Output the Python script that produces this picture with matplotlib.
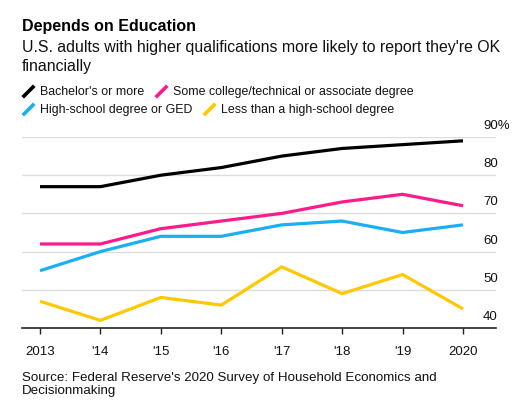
import matplotlib
matplotlib.use('Agg')
import matplotlib.pyplot as plt
from matplotlib.lines import Line2D
from matplotlib.transforms import blended_transform_factory, offset_copy

years = [2013, 2014, 2015, 2016, 2017, 2018, 2019, 2020]
year_labels = ['2013', "'14", "'15", "'16", "'17", "'18", "'19", '2020']

bachelor = [77, 77, 80, 82, 85, 87, 88, 89]
some_college = [62, 62, 66, 68, 70, 73, 75, 72]
high_school = [55, 60, 64, 64, 67, 68, 65, 67]
less_than_hs = [47, 42, 48, 46, 56, 49, 54, 45]

y_ticks = [40, 50, 60, 70, 80, 90]
y_labels = ['40', '50', '60', '70', '80', '90%']

series = [
    ("Bachelor's or more", bachelor, '#000000'),
    ("Some college/technical or associate degree", some_college, '#FF1A8C'),
    ("High-school degree or GED", high_school, '#1AAFF5'),
    ("Less than a high-school degree", less_than_hs, '#FFC800'),
]

plt.rcParams['font.family'] = ['Liberation Sans', 'DejaVu Sans']

W, H = 527, 413
fig = plt.figure(figsize=(W / 100, H / 100), dpi=100)

def fx(px):
    return px / W

def fy(px):
    return 1 - px / H

ax = fig.add_axes([fx(22), fy(328), fx(474), (328 - 137) / H])

for name, vals, col in series:
    ax.plot(years, vals, color=col, lw=2.3, solid_capstyle='butt',
            solid_joinstyle='miter', clip_on=False, zorder=3)

ax.set_xlim(2013 - 18 / 60.43, 2020 + 33 / 60.43)
ax.set_ylim(40, 90)

for s in ['top', 'right', 'left']:
    ax.spines[s].set_visible(False)
ax.spines['bottom'].set_color('#222222')
ax.spines['bottom'].set_linewidth(1.2)

ax.set_yticks(y_ticks[1:])
ax.yaxis.grid(True, color='#dddddd', lw=1)
ax.tick_params(axis='y', length=0, labelleft=False)
ax.set_xticks(years)
ax.set_xticklabels(year_labels)
ax.tick_params(axis='x', length=4, width=1, color='#222222', pad=9,
               labelsize=9.5, labelcolor='#111111')

trans = blended_transform_factory(ax.transAxes, ax.transData)
trans = offset_copy(trans, fig=fig, x=0, y=5, units='dots')
for v, lab in zip(y_ticks, y_labels):
    ax.text((483 - 22) / 474, v, lab, transform=trans, ha='left',
            va='bottom', fontsize=9.5, color='#111111')

fig.text(fx(22), fy(31), 'Depends on Education', fontsize=11.5,
         fontweight='bold', va='baseline', ha='left')
fig.text(fx(22), fy(52),
         "U.S. adults with higher qualifications more likely to report they're OK",
         fontsize=11.4, va='baseline', ha='left', color='#111111')
fig.text(fx(22), fy(71), 'financially', fontsize=11.4, va='baseline',
         ha='left', color='#111111')

legend_pos = [(22, 95), (155, 95), (22, 113), (203, 113)]
for (name, vals, col), (lx, ly) in zip(series, legend_pos):
    fig.add_artist(Line2D([fx(lx + 2), fx(lx + 11)], [fy(ly + 1), fy(ly - 8)],
                          color=col, lw=2.6, transform=fig.transFigure))
    fig.text(fx(lx + 18), fy(ly), name, fontsize=8.9, va='baseline',
             ha='left', color='#111111')

fig.text(fx(22), fy(381),
         "Source: Federal Reserve's 2020 Survey of Household Economics and",
         fontsize=9.6, va='baseline', ha='left', color='#111111')
fig.text(fx(22), fy(394), 'Decisionmaking', fontsize=9.6, va='baseline',
         ha='left', color='#111111')

fig.savefig('out.png', dpi=100)
